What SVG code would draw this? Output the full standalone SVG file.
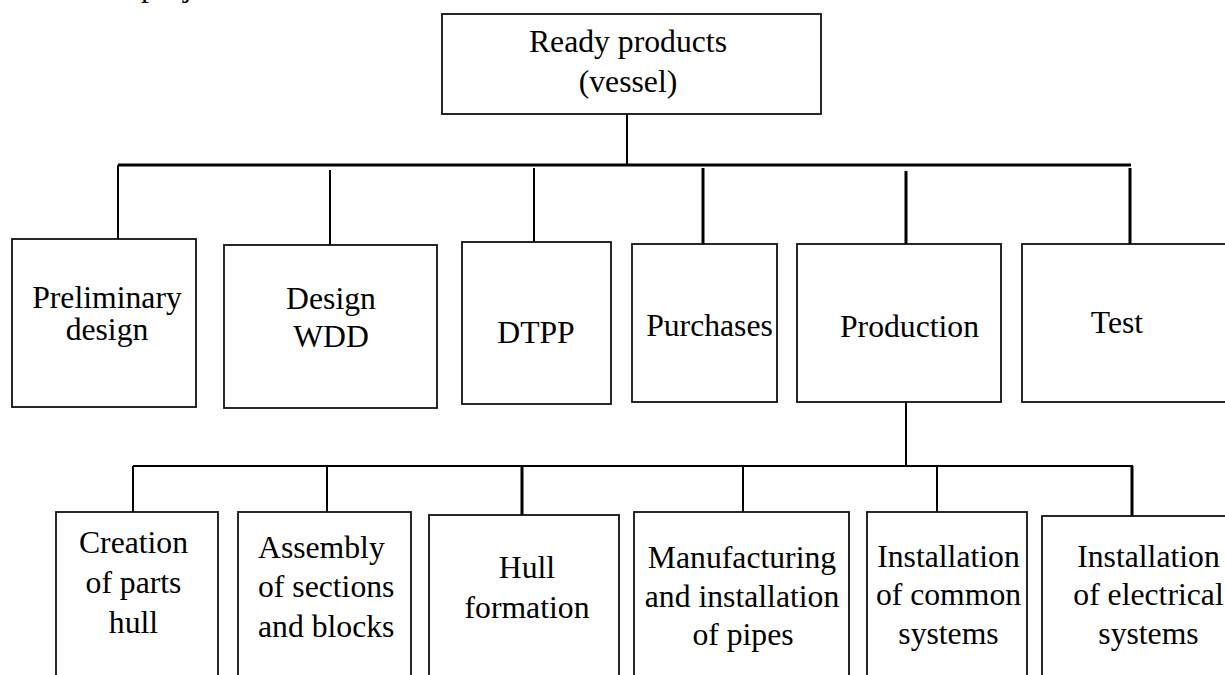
<svg xmlns="http://www.w3.org/2000/svg" width="1225" height="675" viewBox="0 0 1225 675">
  <style>
    .box { fill: #ffffff; stroke: #111111; stroke-width: 1.8; }
    .lbl { font-family: 'Liberation Serif', serif; font-size: 31.7px; fill: #000000; text-anchor: middle; }
    .lft { text-anchor: start; }
    .ln { stroke: #000000; stroke-width: 2; fill: none; }
    .bold { stroke-width: 3; }
  </style>
  <rect width="1225" height="675" fill="#ffffff"/>

  <g font-family="Liberation Serif, serif">
  <!-- clipped heading line above the chart -->
  <text class="lbl lft" x="141" y="-4">project</text>

  <!-- connectors -->
  <g id="connectors">
    <line class="ln" x1="627" y1="114" x2="627" y2="165"/>
    <line class="ln bold" x1="118" y1="165" x2="1131" y2="165"/>
    <line class="ln" x1="118" y1="165" x2="118" y2="239"/>
    <line class="ln" x1="330" y1="170" x2="330" y2="245"/>
    <line class="ln" x1="534" y1="168" x2="534" y2="242"/>
    <line class="ln bold" x1="703" y1="168" x2="703" y2="244"/>
    <line class="ln bold" x1="906" y1="171" x2="906" y2="244"/>
    <line class="ln bold" x1="1130" y1="168" x2="1130" y2="244"/>

    <line class="ln" x1="906" y1="402" x2="906" y2="466"/>
    <line class="ln" x1="133" y1="466" x2="1133" y2="466"/>
    <line class="ln" x1="133" y1="466" x2="133" y2="512"/>
    <line class="ln" x1="327" y1="466" x2="327" y2="512"/>
    <line class="ln bold" x1="522" y1="466" x2="522" y2="515"/>
    <line class="ln" x1="743" y1="466" x2="743" y2="512"/>
    <line class="ln" x1="937" y1="466" x2="937" y2="512"/>
    <line class="ln bold" x1="1132" y1="466" x2="1132" y2="516"/>
  </g>

  <g id="ready-products">
    <rect class="box" x="442" y="14" width="379" height="100"/>
    <text class="lbl" x="628" y="52">Ready products</text>
    <text class="lbl" x="628" y="92">(vessel)</text>
  </g>

  <g id="preliminary-design">
    <rect class="box" x="12" y="239" width="184" height="168"/>
    <text class="lbl" x="107" y="308">Preliminary</text>
    <text class="lbl" x="107" y="340">design</text>
  </g>

  <g id="design-wdd">
    <rect class="box" x="224" y="245" width="213" height="163"/>
    <text class="lbl" x="331" y="309">Design</text>
    <text class="lbl" x="331" y="347">WDD</text>
  </g>

  <g id="dtpp">
    <rect class="box" x="462" y="242" width="149" height="162"/>
    <text class="lbl" x="536" y="343">DTPP</text>
  </g>

  <g id="purchases">
    <rect class="box" x="632" y="244" width="145" height="158"/>
    <text class="lbl" x="709.5" y="336">Purchases</text>
  </g>

  <g id="production">
    <rect class="box" x="797" y="244" width="204" height="158"/>
    <text class="lbl" x="909.5" y="337">Production</text>
  </g>

  <g id="test">
    <rect class="box" x="1022" y="244" width="230" height="158"/>
    <text class="lbl" x="1117" y="333">Test</text>
  </g>

  <g id="creation-of-parts">
    <rect class="box" x="56" y="512" width="162" height="200"/>
    <text class="lbl" x="133.5" y="553">Creation</text>
    <text class="lbl" x="133.5" y="593">of parts</text>
    <text class="lbl" x="133.5" y="633">hull</text>
  </g>

  <g id="assembly">
    <rect class="box" x="238" y="512" width="173" height="200"/>
    <text class="lbl lft" x="258" y="558">Assembly</text>
    <text class="lbl lft" x="258" y="597">of sections</text>
    <text class="lbl lft" x="258" y="637">and blocks</text>
  </g>

  <g id="hull-formation">
    <rect class="box" x="429" y="515" width="190" height="200"/>
    <text class="lbl" x="527" y="578">Hull</text>
    <text class="lbl" x="527" y="618">formation</text>
  </g>

  <g id="pipes">
    <rect class="box" x="634" y="512" width="215" height="200"/>
    <text class="lbl" x="742" y="568">Manufacturing</text>
    <text class="lbl" x="742" y="607">and installation</text>
    <text class="lbl" x="743" y="645">of pipes</text>
  </g>

  <g id="common-systems">
    <rect class="box" x="867" y="512" width="160" height="200"/>
    <text class="lbl" x="948.5" y="567">Installation</text>
    <text class="lbl" x="948.5" y="605">of common</text>
    <text class="lbl" x="948.5" y="644">systems</text>
  </g>

  <g id="electrical-systems">
    <rect class="box" x="1042" y="516" width="230" height="200"/>
    <text class="lbl" x="1148.5" y="567">Installation</text>
    <text class="lbl" x="1148.5" y="605">of electrical</text>
    <text class="lbl" x="1148.5" y="644">systems</text>
  </g>
  </g>
</svg>
